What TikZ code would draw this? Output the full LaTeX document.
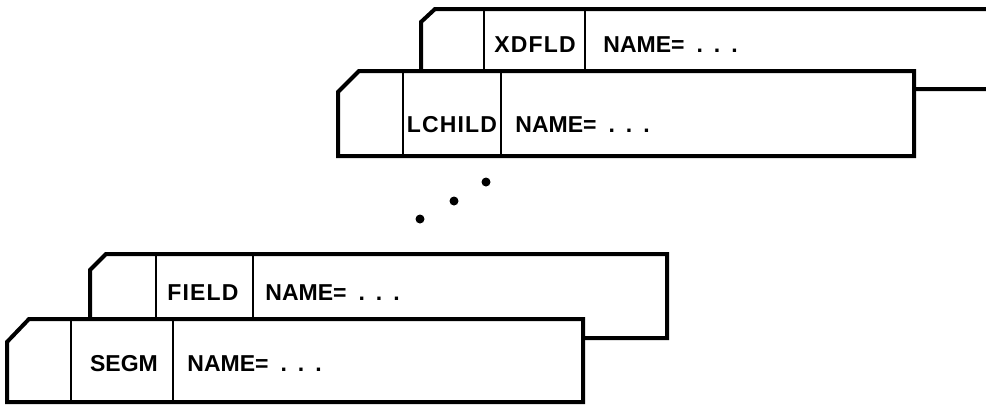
\documentclass[tikz,border=0pt]{standalone}
\usepackage{fontspec}
\setmainfont{Liberation Sans}
\newcommand{\namedots}{NAME=\hspace{6pt}.\hspace{5.5pt}.\hspace{5.5pt}.}
\begin{document}
\begin{tikzpicture}[x=0.5pt, y=-0.5pt,
  card/.style={draw=black, fill=white, line width=2pt, line join=miter},
  divider/.style={draw=black, line width=1.2pt},
  label/.style={font=\fontsize{11.5}{14}\selectfont\bfseries, inner sep=0pt},
  keyword/.style={label, font=\fontsize{11.5}{14}\selectfont\bfseries\addfontfeatures{LetterSpace=5}},
  dot/.style={circle, fill=black, inner sep=0pt, minimum size=4.5pt}]
  \useasboundingbox (0,0) rectangle (986,404);
  \clip (0,0) rectangle (986,404);

  \draw[card] (421,89) -- (421,22) -- (435,9) -- (1010,9) -- (1010,89) -- cycle;
  \draw[divider] (484,9) -- (484,89);
  \draw[divider] (585,9) -- (585,89);
  \node[keyword] (xdfld) at (535,45) {XDFLD};
  \node[label, anchor=west] (xdfldname) at (603,45) {\namedots};

  \draw[card] (338,156) -- (338,92) -- (359,71) -- (914,71) -- (914,156) -- cycle;
  \draw[divider] (403,71) -- (403,156);
  \draw[divider] (501,71) -- (501,156);
  \node[keyword] (lchild) at (452,125) {LCHILD};
  \node[label, anchor=west] (lchildname) at (515,125) {\namedots};

  \node[dot] (dota) at (486,182) {};
  \node[dot] (dotb) at (454,201) {};
  \node[dot] (dotc) at (420,219) {};

  \draw[card] (90,338) -- (90,270) -- (106,254) -- (667,254) -- (667,338) -- cycle;
  \draw[divider] (156,254) -- (156,338);
  \draw[divider] (253,254) -- (253,338);
  \node[keyword] (field) at (203,293) {FIELD};
  \node[label, anchor=west] (fieldname) at (265,293) {\namedots};

  \draw[card] (7,402) -- (7,342) -- (29,319) -- (583,319) -- (583,402) -- cycle;
  \draw[divider] (71,319) -- (71,402);
  \draw[divider] (173,319) -- (173,402);
  \node[label] (segm) at (124,364) {SEGM};
  \node[label, anchor=west] (segmname) at (187,364) {\namedots};
\end{tikzpicture}
\end{document}
